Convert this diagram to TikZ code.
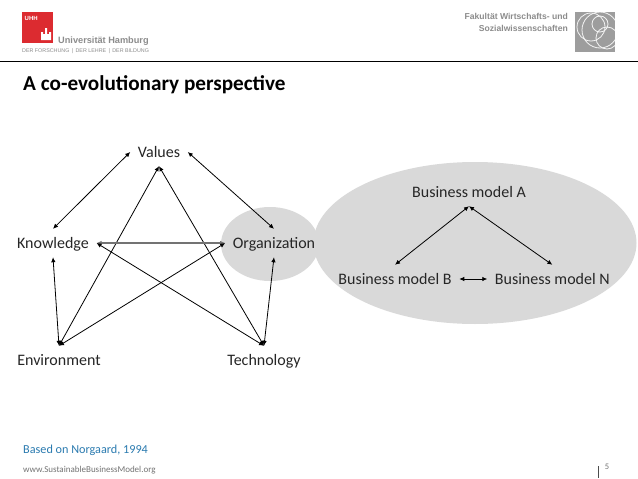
\documentclass[tikz,border=0pt]{standalone}
\usepackage{fontspec}
\setmainfont{Carlito}
\newfontfamily\logofont{Liberation Sans}
\usetikzlibrary{arrows.meta,positioning}
\definecolor{uhhred}{HTML}{DC2B30}
\definecolor{logogray}{HTML}{8C8C8C}
\definecolor{basedblue}{HTML}{2B7BB0}
\definecolor{blobgray}{HTML}{D9D9D9}
\definecolor{inkgray}{HTML}{262626}
\tikzset{
  lbl/.style={inner xsep=7.5pt, inner ysep=7pt, text height=12pt, text depth=2pt, text=inkgray, font=\fontsize{16}{18}\selectfont},
  link/.style={{Latex[length=5pt,width=4.5pt]}-{Latex[length=5pt,width=4.5pt]}, line width=0.8pt, black},
  logotxt/.style={inner sep=0pt, text=logogray, font=\logofont\bfseries},
  ring/.style={draw=white!90!logogray, line width=0.8pt}
}
\begin{document}
\begin{tikzpicture}[x=1pt, y=-1pt]
\useasboundingbox (0,0) rectangle (638,479);
\fill[white] (0,0) rectangle (638,479);

\fill[uhhred] (22,12) rectangle (53,43);
\node[inner sep=0pt, anchor=west, text=white, font=\logofont\bfseries\fontsize{6}{6}\selectfont] (uhh) at (24.5,18) {UHH};
\fill[white] (43,34) rectangle (49,40) (41,32) rectangle (43,40) (49,32) rectangle (51,40) (45,28) rectangle (47,34);
\node[logotxt, anchor=west, font=\logofont\bfseries\fontsize{9.2}{10}\selectfont] (unilogo) at (58,41) {Universität Hamburg};
\node[logotxt, anchor=west, font=\logofont\fontsize{5.35}{6}\selectfont] (unimotto) at (22,51) {DER FORSCHUNG \,|\, DER LEHRE \,|\, DER BILDUNG};

\node[logotxt, anchor=east, font=\logofont\bfseries\fontsize{8.6}{9}\selectfont] (fak1) at (568,16) {Fakultät Wirtschafts- und};
\node[logotxt, anchor=east, font=\logofont\bfseries\fontsize{8.6}{9}\selectfont] (fak2) at (568,28) {Sozialwissenschaften};
\fill[logogray!85] (575,12) rectangle (615,52);
\begin{scope}
\clip (575,12) rectangle (615,52);
\draw[ring] (591,27) circle (14);
\draw[ring] (600,30) circle (18);
\draw[ring] (600,24) circle (8);
\draw[ring] (607,38) circle (11);
\end{scope}
\draw[black, line width=0.7pt] (0,61) -- (638,61);

\node[anchor=west, inner sep=0pt, text=black, font=\bfseries\fontsize{21.2}{24}\selectfont] (title) at (23,85) {A co-evolutionary perspective};

\fill[blobgray] (475,243) ellipse (161.5 and 81);
\fill[blobgray] (270,244) ellipse (49 and 37);

\node[lbl] (values) at (159,152) {Values};
\node[lbl] (knowledge) at (53,243) {Knowledge};
\node[lbl] (organization) at (274,243) {Organization};
\node[lbl] (environment) at (59,360) {Environment};
\node[lbl] (technology) at (264,360) {Technology};

\node[lbl] (modela) at (469,192) {Business model A};
\node[lbl] (modelb) at (395,279) {Business model B};
\node[lbl, right=28pt of modelb] (modeln) {Business model N};

\draw[link] (values.west) -- (knowledge.north);
\draw[link] (values.east) -- (organization.north);
\draw[link] (values.south) -- (environment.north);
\draw[link] (values.south) -- (technology.north);
\draw[link, black!55, line width=1.2pt] (knowledge.east) -- (organization.west);
\draw[link] (knowledge.east) -- (technology.north);
\draw[link] (environment.north) -- (organization.west);
\draw[link] (environment.north) -- (knowledge.south);
\draw[link] (technology.north) -- (organization.south);

\draw[link] (modela.south) -- (modelb.north);
\draw[link] (modela.south) -- (modeln.north);
\draw[link] (modelb.east) -- (modeln.west);

\node[anchor=west, inner sep=0pt, text=basedblue, font=\fontsize{12.2}{14}\selectfont] (based) at (23,450) {Based on Norgaard, 1994};
\node[anchor=west, inner sep=0pt, text=black!55, font=\fontsize{9}{10}\selectfont] (website) at (23,470) {www.SustainableBusinessModel.org};
\node[inner sep=0pt, text=black!55, font=\fontsize{8.5}{10}\selectfont] (pagenum) at (607,467) {5};
\draw[black!70, line width=0.6pt] (598,466) -- (598,478);
\end{tikzpicture}
\end{document}
